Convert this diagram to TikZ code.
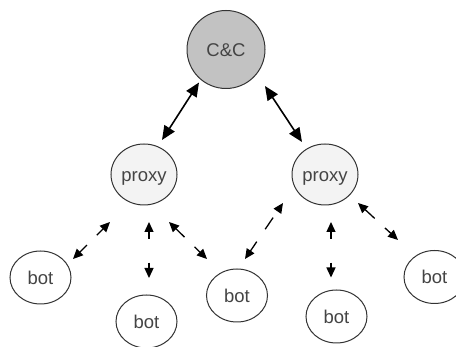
\documentclass[tikz,border=0pt]{standalone}
\usepackage{fontspec}
\setmainfont{Liberation Sans}
\usetikzlibrary{arrows.meta,calc,shapes.geometric}
\definecolor{ccfill}{HTML}{C2C2C2}
\definecolor{pxfill}{HTML}{F3F3F3}
\definecolor{edgecol}{HTML}{333333}
\definecolor{txt}{HTML}{444444}
\begin{document}
\begin{tikzpicture}[x=1pt,y=-1pt,
 lbl/.style={font=\fontsize{18.5}{20}\selectfont, text=txt, inner sep=0pt, text height=13.5pt, text depth=0pt},
 ccnode/.style={circle, draw=edgecol, line width=1pt, fill=ccfill, minimum size=78pt, lbl},
 pxnode/.style={ellipse, draw=edgecol, line width=1pt, fill=pxfill, minimum width=66pt, minimum height=61pt, lbl},
 botnode/.style={ellipse, draw=edgecol, line width=1pt, fill=white, minimum width=61pt, minimum height=53pt, lbl},
 mainarr/.style={line width=1.6pt, {Triangle[length=14pt,width=12pt]}-{Triangle[length=14pt,width=12pt]}},
 dasharr/.style={line width=1.3pt, {Triangle[length=10pt,width=9pt]}-{Triangle[length=10pt,width=9pt]}},
]
\clip (0,0) rectangle (456,347);
\fill[white] (0,0) rectangle (456,347);

\node[ccnode] (cc) at (226,49.5) {C\&C};
\node[pxnode] (pl) at (144,174.5) {proxy};
\node[pxnode] (pr) at (325,174.5) {proxy};
\node[botnode] (b1) at (40.5,277.5) {bot};
\node[botnode] (b2) at (146.5,321.5) {bot};
\node[botnode] (b3) at (237,295.5) {bot};
\node[botnode] (b4) at (336.5,316.5) {bot};
\node[botnode] (b5) at (434.5,277) {bot};

\draw[mainarr] ($(cc)+(-27,33)$) -- ($(pl)+(18,-34.5)$);
\draw[mainarr] ($(cc)+(39,36.5)$) -- ($(pr)+(-23,-32.5)$);

\draw[dasharr, dash pattern=on 9pt off 14pt on 40pt off 1pt] ($(pl)+(-34,47.5)$) -- ($(b1)+(32.5,-18.5)$);
\draw[dasharr, dash pattern=on 7pt off 24pt on 40pt off 1pt] ($(pl)+(5,47.5)$) -- ($(b2)+(2.5,-43.5)$);
\draw[dasharr, dash pattern=on 12pt off 14pt on 40pt off 1pt] ($(pl)+(25,47.5)$) -- ($(b3)+(-30,-36.5)$);
\draw[dasharr, dash pattern=on 0pt off 8pt on 14pt off 15pt on 40pt off 1pt] ($(pr)+(-42,28.5)$) -- ($(b3)+(8,-36.5)$);
\draw[dasharr, dash pattern=on 7pt off 24pt on 40pt off 1pt] ($(pr)+(6,47.5)$) -- ($(b4)+(-5.5,-39)$);
\draw[dasharr, dash pattern=on 13pt off 14pt on 40pt off 1pt] ($(pr)+(33,28.5)$) -- ($(b5)+(-36.5,-37)$);
\end{tikzpicture}
\end{document}
